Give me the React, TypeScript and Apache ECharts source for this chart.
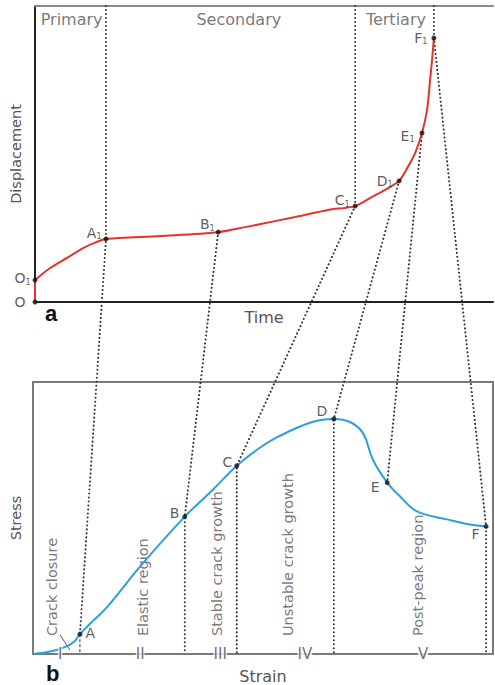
import React, { useEffect, useRef } from "react";
import * as echarts from "echarts";

// ---------- Panel a: creep curve (time vs displacement, % of axis range) ----------
const creepTime = [0, 0, 3.3, 7.0, 10.5, 13.5, 15.5, 27.3, 40.0, 45.9, 56.8, 64.0, 69.9, 73.6, 77.1, 79.5, 81.4, 83.0, 84.5, 85.6, 86.2, 86.7, 87.1];
const creepDisplacement = [0, 7.4, 11.5, 14.9, 18.2, 20.3, 21.3, 22.3, 23.6, 25.3, 28.7, 31.1, 32.4, 35.5, 38.5, 40.9, 45.6, 50.3, 57.1, 64.9, 74.0, 81.8, 89.2];
const creepKeyNames = ["O", "O1", "A1", "B1", "C1", "D1", "E1", "F1"];
const creepKeyTime = [0, 0, 15.5, 40.0, 69.9, 79.5, 84.5, 87.1];
const creepKeyDisplacement = [0, 7.4, 21.3, 23.6, 32.4, 40.9, 57.1, 89.2];
const phaseNames = ["Primary", "Secondary", "Tertiary"];
const phaseTime = [8.0, 44.5, 78.8];
const phaseDisplacement = [95.3, 95.3, 95.3];

// ---------- Panel b: stress-strain curve (% of axis range) ----------
const strainValues = [0, 4.3, 7.4, 9.1, 10.2, 13.0, 16.1, 23.3, 33.0, 39.1, 44.3, 48.7, 53.3, 60.7, 65.4, 68.9, 71.7, 73.9, 77.0, 79.8, 83.5, 90.0, 95.0, 98.5];
const stressValues = [0, 1.1, 2.9, 4.8, 7.3, 12.1, 17.2, 32.2, 50.5, 60.4, 69.2, 75.1, 79.9, 85.3, 86.4, 85.3, 81.3, 71.4, 63.0, 57.9, 52.4, 49.5, 47.6, 46.9];
const stressKeyNames = ["A", "B", "C", "D", "E", "F"];
const stressKeyStrain = [10.2, 33.0, 44.3, 65.4, 77.0, 98.5];
const stressKeyStress = [7.3, 50.5, 69.2, 86.4, 63.0, 46.9];
const stageNumerals = ["I", "II", "III", "IV", "V"];
const stageNumeralStrain = [5.9, 23.3, 40.7, 59.1, 84.8];
const stageNames = ["Crack closure", "Elastic region", "Stable crack growth", "Unstable crack growth", "Post-peak region"];
const stageNameStrain = [4.1, 23.9, 39.9, 55.4, 83.7];
const stageNameStress = [6.6, 6.6, 6.6, 6.6, 6.6];
const leaderStrain = [5.9, 8.0];
const leaderStress = [7.0, 1.5];

// connectors: which key points extend to the top of panel a / drop to strain axis
const topExtended = ["A", "C", "F"];
const dropToAxis = ["B", "C", "D", "F"];

// ---------- styling (not data) ----------
const FONT = "DejaVu Sans";
const creepLabelPlacement = [
  { position: "left", distance: 7, offset: [0, 0] },
  { position: "left", distance: 2, offset: [0, -2] },
  { position: "left", distance: 2, offset: [0, -6] },
  { position: "left", distance: 1, offset: [0, -8] },
  { position: "left", distance: 3, offset: [0, -6] },
  { position: "left", distance: 4, offset: [0, 0] },
  { position: "left", distance: 5, offset: [0, 3] },
  { position: "left", distance: 4, offset: [0, 0] },
];
const stressLabelPlacement = [
  { position: "right", distance: 3, offset: [0, -1] },
  { position: "left", distance: 3, offset: [0, -4] },
  { position: "left", distance: 2, offset: [0, -4] },
  { position: "left", distance: 4, offset: [0, -8] },
  { position: "left", distance: 5, offset: [0, 4] },
  { position: "left", distance: 4, offset: [0, 8] },
];

const pointRich = {
  m: { fontSize: 14, color: "#333", fontFamily: FONT, lineHeight: 16 },
  s: { fontSize: 8, color: "#333", fontFamily: FONT, lineHeight: 16, verticalAlign: "bottom", padding: [5, 0, 0, 0] },
};
const pointFormatter = (p: any) => {
  const n: string = p.name;
  return n.length > 1 ? `{m|${n[0]}}{s|${n.slice(1)}}` : `{m|${n}}`;
};

export default function App() {
  const ref = useRef<HTMLDivElement>(null);

  useEffect(() => {
    if (!ref.current) return;
    const chart = echarts.init(ref.current, undefined, { renderer: "svg" });

    const creepLine = creepTime.map((t, i) => [t, creepDisplacement[i]]);
    const stressLine = strainValues.map((s, i) => [s, stressValues[i]]);

    const option: any = {
      animation: false,
      backgroundColor: "#ffffff",
      title: [
        { text: "a", left: 45, top: 302, padding: 0, textStyle: { fontSize: 22, fontWeight: "bold", fontFamily: "Liberation Sans", color: "#111" } },
        { text: "b", left: 46, top: 662, padding: 0, textStyle: { fontSize: 22, fontWeight: "bold", fontFamily: "Liberation Sans", color: "#111" } },
      ],
      grid: [
        { left: 35, top: 6, width: 458, height: 296, show: false },
        { left: 33, top: 382, width: 460, height: 273, show: true, borderColor: "#7a7a7a", borderWidth: 2, backgroundColor: "transparent" },
      ],
      xAxis: [
        {
          gridIndex: 0, type: "value", min: 0, max: 100, position: "bottom",
          name: "Time", nameLocation: "middle", nameGap: 7,
          nameTextStyle: { fontSize: 16, fontFamily: FONT, color: "#555", verticalAlign: "top" },
          axisLine: { show: true, lineStyle: { color: "#222", width: 2 } },
          axisTick: { show: false }, axisLabel: { show: false }, splitLine: { show: false },
        },
        {
          gridIndex: 0, type: "value", min: 0, max: 100, position: "top",
          axisLine: { show: true, onZero: false, lineStyle: { color: "#8a8a8a", width: 2 } },
          axisTick: { show: false }, axisLabel: { show: false }, splitLine: { show: false },
        },
        {
          gridIndex: 1, type: "value", min: 0, max: 100, position: "bottom",
          name: "Strain", nameLocation: "middle", nameGap: 14,
          nameTextStyle: { fontSize: 16, fontFamily: FONT, color: "#555", verticalAlign: "top" },
          axisLine: { show: false }, axisTick: { show: false }, axisLabel: { show: false }, splitLine: { show: false },
        },
      ],
      yAxis: [
        {
          gridIndex: 0, type: "value", min: 0, max: 100,
          name: "Displacement", nameLocation: "middle", nameGap: 12,
          nameTextStyle: { fontSize: 14.5, fontFamily: FONT, color: "#555" },
          axisLine: { show: true, lineStyle: { color: "#222", width: 2 } },
          axisTick: { show: false }, axisLabel: { show: false }, splitLine: { show: false },
        },
        {
          gridIndex: 1, type: "value", min: 0, max: 100,
          name: "Stress", nameLocation: "middle", nameGap: 10,
          nameTextStyle: { fontSize: 14.5, fontFamily: FONT, color: "#555" },
          axisLine: { show: false }, axisTick: { show: false }, axisLabel: { show: false }, splitLine: { show: false },
        },
      ],
      series: [
        // panel a: O -> O1 straight segment
        {
          type: "line", xAxisIndex: 0, yAxisIndex: 0, data: creepLine.slice(0, 2), symbol: "none",
          lineStyle: { color: "#e2342b", width: 2 }, z: 5,
        },
        // panel a: creep curve
        {
          type: "line", xAxisIndex: 0, yAxisIndex: 0, data: creepLine.slice(1), symbol: "none", smooth: 0.3,
          lineStyle: { color: "#e2342b", width: 2 }, z: 5,
        },
        // panel a: key points
        {
          type: "scatter", xAxisIndex: 0, yAxisIndex: 0, symbolSize: 5, itemStyle: { color: "#111" }, z: 6,
          data: creepKeyNames.map((n, i) => ({
            name: n, value: [creepKeyTime[i], creepKeyDisplacement[i]],
            label: { show: true, formatter: pointFormatter, rich: pointRich, ...creepLabelPlacement[i] },
          })),
        },
        // panel a: phase names
        {
          type: "scatter", xAxisIndex: 0, yAxisIndex: 0, symbolSize: 0, silent: true,
          itemStyle: { color: "#555" },
          data: phaseNames.map((n, i) => ({ name: n, value: [phaseTime[i], phaseDisplacement[i]] })),
          label: {
            show: true, position: [0, 0], align: "center", verticalAlign: "middle",
            formatter: "{b}", fontSize: 16, fontFamily: FONT, color: "#555",
          },
        },
        // panel b: stress-strain curve
        {
          type: "line", xAxisIndex: 2, yAxisIndex: 1, data: stressLine, symbol: "none", smooth: 0.4,
          lineStyle: { color: "#2d9fe0", width: 2 }, z: 5,
        },
        // panel b: key points
        {
          type: "scatter", xAxisIndex: 2, yAxisIndex: 1, symbolSize: 5, itemStyle: { color: "#111" }, z: 6,
          data: stressKeyNames.map((n, i) => ({
            name: n, value: [stressKeyStrain[i], stressKeyStress[i]],
            label: { show: true, formatter: pointFormatter, rich: pointRich, ...stressLabelPlacement[i] },
          })),
        },
        // panel b: stage numerals on the strain axis
        {
          type: "scatter", xAxisIndex: 2, yAxisIndex: 1, symbolSize: 0, silent: true, z: 7,
          itemStyle: { color: "#4a4a4a" },
          data: stageNumerals.map((n, i) => ({ name: n, value: [stageNumeralStrain[i], 0] })),
          label: {
            show: true, position: [0, 0], align: "center", verticalAlign: "middle",
            formatter: "{b}", fontSize: 15, fontFamily: FONT, color: "#4a4a4a",
            backgroundColor: "#ffffff", padding: [0, 0],
          },
        },
        // panel b: stage names (vertical)
        {
          type: "scatter", xAxisIndex: 2, yAxisIndex: 1, symbolSize: 0, silent: true,
          itemStyle: { color: "#555" },
          data: stageNames.map((n, i) => ({ name: n, value: [stageNameStrain[i], stageNameStress[i]] })),
          label: {
            show: true, position: "inside", formatter: "{b}", rotate: 90, align: "left", verticalAlign: "middle",
            fontSize: 14.5, fontFamily: FONT, color: "#555", textBorderWidth: 0,
          },
        },
        // panel b: leader line for "Crack closure"
        {
          type: "line", xAxisIndex: 2, yAxisIndex: 1, symbol: "none",
          data: leaderStrain.map((s, i) => [s, leaderStress[i]]),
          lineStyle: { color: "#555", width: 1 },
        },
      ],
    };

    chart.setOption(option);

    const pa = (x: number, y: number) => chart.convertToPixel({ xAxisIndex: 0, yAxisIndex: 0 } as any, [x, y]) as number[];
    const pb = (x: number, y: number) => chart.convertToPixel({ xAxisIndex: 2, yAxisIndex: 1 } as any, [x, y]) as number[];

    const dotted = { stroke: "#333", lineWidth: 2, lineDash: [0.1, 3.9], lineCap: "round", fill: null };
    const dashed = { stroke: "#333", lineWidth: 1, lineDash: [3, 2], fill: null };
    const graphics: any[] = [];

    stressKeyNames.forEach((name, i) => {
      const ai = i + 2; // matching creep key point (A1...F1)
      const pts: number[][] = [];
      if (topExtended.includes(name)) pts.push(pa(creepKeyTime[ai], 100));
      pts.push(pa(creepKeyTime[ai], creepKeyDisplacement[ai]));
      pts.push(pb(stressKeyStrain[i], stressKeyStress[i]));
      if (dropToAxis.includes(name)) pts.push(pb(stressKeyStrain[i], 0));
      graphics.push({ type: "polyline", silent: true, z: 3, shape: { points: pts }, style: dotted });
      if (name === "A") {
        graphics.push({
          type: "polyline", silent: true, z: 3,
          shape: { points: [pb(stressKeyStrain[i], stressKeyStress[i]), pb(stressKeyStrain[i], 0)] },
          style: dashed,
        });
      }
    });

    chart.setOption({ graphic: graphics });

    return () => chart.dispose();
  }, []);

  return (
    <div
      ref={ref}
      style={{ position: "fixed", left: 0, top: 0, width: 495, height: 685, background: "#fff" }}
    />
  );
}
